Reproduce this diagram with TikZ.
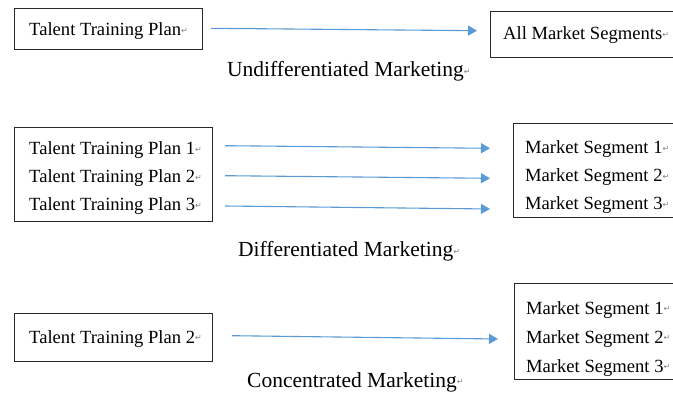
\documentclass[tikz,border=0pt]{standalone}
\usepackage{fontspec}
\setmainfont{Liberation Serif}
\newfontfamily\markfont{DejaVu Sans}
\usetikzlibrary{arrows.meta}
\definecolor{arrowblue}{RGB}{91,155,213}
\definecolor{boxline}{RGB}{40,40,40}
\newcommand{\pmark}{{\markfont\fontsize{8}{8}\selectfont\color{gray}\raisebox{2pt}{↵}}}
\tikzset{
  frame/.style={draw=boxline, line width=1.1pt, inner sep=0pt, anchor=north west},
  txt/.style={inner sep=0pt, anchor=base west, font=\fontsize{18.6}{18.6}\selectfont},
  caption/.style={inner sep=0pt, anchor=base west, font=\fontsize{21.5}{21.5}\selectfont},
  flow/.style={draw=arrowblue, line width=1.1pt, -{Triangle[length=9pt,width=10pt]}},
}
\begin{document}
\begin{tikzpicture}[x=1pt,y=-1pt]
\useasboundingbox (0,0) rectangle (673,393);

% Undifferentiated marketing
\node[frame, minimum width=188pt, minimum height=41pt] (planA) at (14,8) {};
\node[txt] (planAt) at (29,36) {Talent Training Plan\pmark};
\node[frame, minimum width=200pt, minimum height=46pt] (allSeg) at (490,11) {};
\node[txt] (allSegt) at (503,40) {All Market Segments\pmark};
\coordinate (a0s) at (211,28.3);
\coordinate (a0e) at (477,30.7);
\draw[flow] (a0s) -- (a0e);
\node[caption] (lab1) at (227,77) {Undifferentiated Marketing\pmark};

% Differentiated marketing
\node[frame, minimum width=198pt, minimum height=94pt] (planB) at (14,127) {};
\node[txt] (planB1) at (29,155) {Talent Training Plan 1\pmark};
\node[txt] (planB2) at (29,183) {Talent Training Plan 2\pmark};
\node[txt] (planB3) at (29,211) {Talent Training Plan 3\pmark};
\node[frame, minimum width=200pt, minimum height=94pt] (segB) at (513,123) {};
\node[txt] (segB1) at (525,154) {Market Segment 1\pmark};
\node[txt] (segB2) at (525,182) {Market Segment 2\pmark};
\node[txt] (segB3) at (525,210) {Market Segment 3\pmark};
\coordinate (b1s) at (225,145.7);
\coordinate (b1e) at (490,148.3);
\coordinate (b2s) at (225,175.7);
\coordinate (b2e) at (490,178.3);
\coordinate (b3s) at (225,206);
\coordinate (b3e) at (490,209);
\draw[flow] (b1s) -- (b1e);
\draw[flow] (b2s) -- (b2e);
\draw[flow] (b3s) -- (b3e);
\node[caption] (lab2) at (238,257) {Differentiated Marketing\pmark};

% Concentrated marketing
\node[frame, minimum width=198pt, minimum height=48pt] (planC) at (14,313) {};
\node[txt] (planCt) at (29,343) {Talent Training Plan 2\pmark};
\node[frame, minimum width=200pt, minimum height=96pt] (segC) at (514,283) {};
\node[txt] (segC1) at (526,314) {Market Segment 1\pmark};
\node[txt] (segC2) at (526,343) {Market Segment 2\pmark};
\node[txt] (segC3) at (526,372) {Market Segment 3\pmark};
\coordinate (c1s) at (232,335.7);
\coordinate (c1e) at (498,339);
\draw[flow] (c1s) -- (c1e);
\node[caption] (lab3) at (247,387) {Concentrated Marketing\pmark};
\end{tikzpicture}
\end{document}
